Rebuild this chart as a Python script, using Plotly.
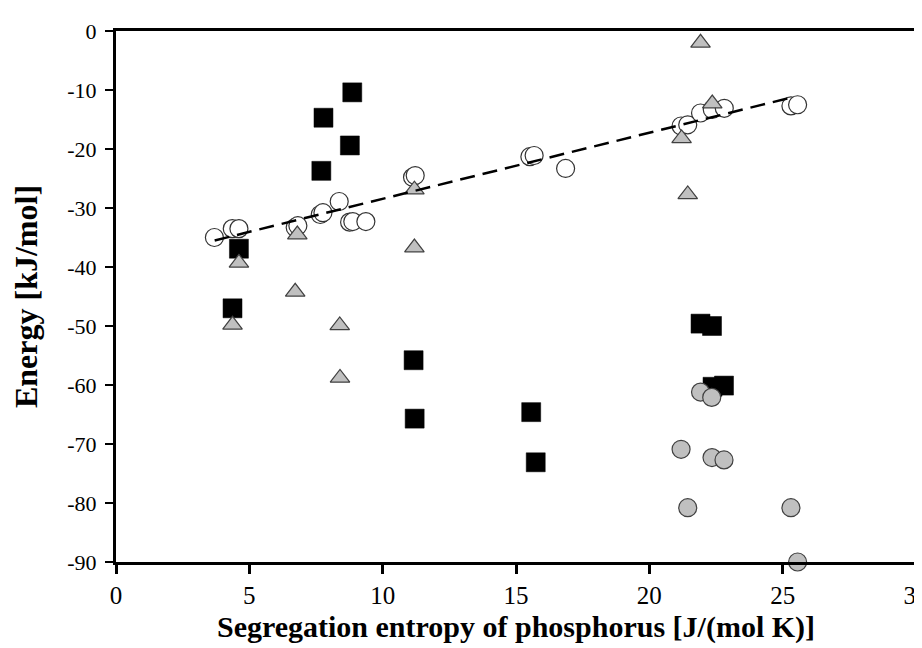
import plotly.graph_objects as go

# ---- data ----
sq_x = [8.86, 7.78, 8.77, 7.70, 4.61, 4.37, 11.16, 11.20, 15.57, 15.74, 21.92, 22.35, 22.37, 22.80]
sq_y = [-10.4, -14.7, -19.4, -23.7, -36.9, -47.0, -55.8, -65.7, -64.6, -73.1, -49.6, -50.0, -60.3, -60.1]

oc_x = [3.69, 4.36, 4.61, 6.72, 6.82, 7.66, 7.76, 8.37, 8.76, 8.88, 9.37, 11.12, 11.22,
        15.52, 15.68, 16.86, 21.19, 21.44, 21.92, 22.36, 22.81, 25.31, 25.56]
oc_y = [-35.0, -33.5, -33.5, -33.3, -33.0, -31.1, -30.8, -28.9, -32.4, -32.3, -32.3, -24.8, -24.5,
        -21.3, -21.1, -23.3, -16.1, -15.9, -13.9, -13.3, -13.1, -12.7, -12.5]

tr_x = [4.61, 6.80, 11.19, 11.19, 6.72, 4.37, 8.39, 8.40, 21.92, 22.36, 21.21, 21.44]
tr_y = [-39.3, -34.5, -26.9, -36.7, -44.2, -49.8, -49.9, -58.8, -2.0, -12.3, -18.2, -27.7]

gc_x = [21.92, 22.34, 21.19, 22.35, 22.80, 21.44, 25.31, 25.56]
gc_y = [-61.2, -62.1, -70.9, -72.3, -72.7, -80.8, -80.8, -90.0]

trend_x = [3.7, 25.3]
trend_y = [-35.5, -11.3]

x_ticks = [0, 5, 10, 15, 20, 25, 30]
y_ticks = [0, -10, -20, -30, -40, -50, -60, -70, -80, -90]
y_tick_text = ["0", "-10", "-20", "-30", "-40", "-50", "-60", "-70", "-80", "-90"]

x_title = "Segregation entropy of phosphorus [J/(mol K)]"
y_title = "Energy [kJ/mol]"

# ---- figure ----
fig = go.Figure()
fig.add_trace(go.Scatter(x=sq_x, y=sq_y, mode="markers", cliponaxis=False,
                         marker=dict(symbol="square", size=19, color="black",
                                     line=dict(color="black", width=0.5))))
fig.add_trace(go.Scatter(x=oc_x, y=oc_y, mode="markers", cliponaxis=False,
                         marker=dict(symbol="circle", size=18, color="white",
                                     line=dict(color="#333333", width=1.2))))
fig.add_trace(go.Scatter(x=tr_x, y=tr_y, mode="markers", cliponaxis=False,
                         marker=dict(symbol="triangle-up", size=17, color="#C0C0C0",
                                     line=dict(color="#404040", width=1.2))))
fig.add_trace(go.Scatter(x=gc_x, y=gc_y, mode="markers", cliponaxis=False,
                         marker=dict(symbol="circle", size=18, color="#C0C0C0",
                                     line=dict(color="#404040", width=1.2))))
fig.add_trace(go.Scatter(x=trend_x, y=trend_y, mode="lines",
                         line=dict(color="black", width=2.5, dash="15px,8px")))

fig.update_layout(
    width=922, height=648,
    margin=dict(l=108, r=14, t=23, b=94, autoexpand=False),
    paper_bgcolor="white", plot_bgcolor="white",
    showlegend=False,
    font=dict(family="Liberation Serif", size=22, color="black"),
)
fig.update_xaxes(
    range=[0, 30], tickvals=x_ticks, ticktext=[str(v) for v in x_ticks],
    showgrid=False, zeroline=False, automargin=False,
    showline=True, linewidth=3, linecolor="black", mirror=True,
    ticks="outside", ticklen=9, tickwidth=2.5, tickcolor="black",
    tickfont=dict(family="Liberation Serif", size=25),
    ticklabelstandoff=0,
    title=dict(text=x_title, font=dict(family="Liberation Serif", size=30, weight="bold"), standoff=8),
)
fig.update_yaxes(
    range=[-90, 0], tickvals=y_ticks, ticktext=y_tick_text,
    showgrid=False, zeroline=False, automargin=False,
    showline=True, linewidth=3, linecolor="black", mirror=True,
    ticks="outside", ticklen=8, tickwidth=1.5, tickcolor="black",
    tickfont=dict(family="Liberation Serif", size=22),
    ticklabelstandoff=4,
    title=dict(text=y_title, font=dict(family="Liberation Serif", size=32, weight="bold"), standoff=24),
)

fig.write_html("out.html")
